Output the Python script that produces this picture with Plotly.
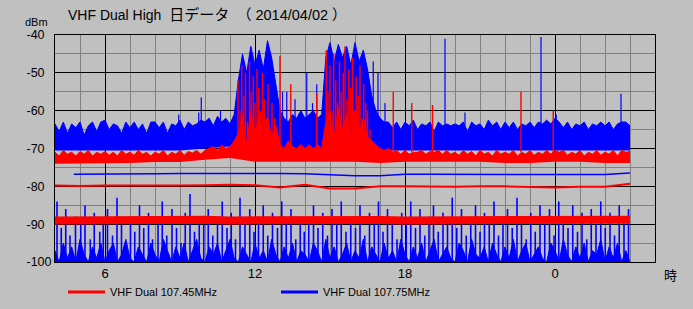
import plotly.graph_objects as go

# ---------------- data ----------------
# 10-minute samples from 4:00 to 27:00 (= 3:00 next day), hours since 0:00 of 2014/04/02
T0 = 4.0
STEP = 1.0 / 6.0

# 107.75MHz (blue) - max trace: top edge of the noisy band (10-min)
blue_max_top = [
    -63.5, -65.5, -63, -66, -63.5, -64.5, -63, -66.5, -64, -63, -65.5, -63,
    -62.5, -65, -63.5, -64, -66, -63, -64.5, -63, -65, -63.5, -66, -63,
    -63, -64.5, -63, -66, -63.5, -64, -62.5, -65, -63, -64, -63.5, -62.5,
    -63, -62, -64, -61.5, -63, -62, -63.5, -61, -52, -45, -50, -43,
    -48, -44, -49, -41.5, -46, -53, -60, -62, -63, -61, -62, -60,
    -62, -61, -60, -62, -61, -46, -42, -47, -42.5, -46, -43, -48,
    -42, -47, -44, -49, -56, -60, -62, -63, -63, -64.5, -63, -65,
    -63, -64, -62.5, -65, -63.5, -64, -63, -65.5, -63, -64, -63.5, -64,
    -63.5, -64, -63, -65.5, -63, -64, -63.5, -65, -62.5, -64, -63, -65,
    -63, -64.5, -63, -65, -63.5, -64, -63, -64.5, -63, -63.5, -62.5, -63.5,
    -62, -63, -64.5, -63, -65, -63.5, -64, -63, -65, -63.5, -64, -63,
    -64, -63, -65, -63.5, -63, -63, -64,
]
# bottom edge of that band, hourly 4:00 .. 27:00
blue_max_bottom = [
    -70.5, -70.5, -70.5, -70.5, -70.5, -70.5, -70, -69.5, -70, -70, -70, -70.5,
    -70.5, -70.5, -70.5, -70.5, -70.5, -70.5, -70.5, -70.5, -70.5, -70.5, -70.5, -70.5,
]
# isolated max-trace spikes of 107.75MHz
blue_max_spike_t = [8.95, 9.75, 9.85, 10.62, 13.1, 13.27, 13.6, 14.07, 14.3, 14.47,
                    16.73, 16.92, 17.2, 19.6, 20.4, 23.44, 24.05, 26.64]
blue_max_spike_v = [-61, -60.5, -56.5, -60, -55, -55, -57, -50, -58, -53,
                    -47, -50, -58, -41, -60.5, -40.5, -61, -55.5]

# 107.75MHz average trace
blue_avg_hours = [4.75, 5, 6, 7, 8, 9, 10, 11, 12, 13, 14, 15, 16, 17, 18, 19,
                  20, 21, 22, 23, 24, 25, 26, 27]
blue_avg = [-76.8, -76.8, -76.7, -76.7, -76.7, -76.6, -76.6, -76.5, -76.6, -76.6,
            -76.7, -77.0, -77.2, -77.2, -76.8, -76.8, -76.8, -76.8, -76.9, -76.9,
            -77.0, -76.9, -76.9, -76.5]

# 107.75MHz minimum trace: dense part just above the -100 floor (10-min)
blue_min = [
    -97, -100, -95, -99, -96, -100, -94, -98, -100, -96, -99, -95,
    -100, -97, -95, -100, -98, -94, -99, -100, -96, -98, -100, -95,
    -98, -100, -94, -97, -100, -96, -99, -95, -100, -97, -94, -99,
    -100, -96, -98, -95, -100, -97, -94, -99, -100, -96, -98, -100,
    -95, -99, -97, -100, -94, -98, -100, -96, -99, -95, -100, -97,
    -98, -100, -95, -97, -100, -94, -99, -96, -100, -98, -95, -100,
    -97, -99, -94, -100, -96, -98, -100, -95, -99, -97, -100, -94,
    -98, -100, -96, -99, -95, -100, -97, -94, -100, -98, -96, -99,
    -100, -95, -97, -100, -94, -98, -99, -96, -100, -95, -98, -100,
    -96, -99, -94, -100, -97, -95, -100, -98, -96, -99, -100, -95,
    -97, -100, -94, -98, -100, -96, -99, -95, -100, -97, -98, -94,
    -100, -96, -99, -95, -100, -97, -100,
]
# 107.75MHz minimum trace: spikes rising from the floor
blue_min_spike_t = [
    4.08, 4.25, 4.43, 4.60, 4.82, 5.03, 5.20, 5.41, 5.57, 5.79, 5.93,
    6.10, 6.30, 6.48, 6.66, 6.85, 7.02, 7.19, 7.38, 7.55, 7.74, 7.90,
    8.12, 8.29, 8.47, 8.68, 8.86, 9.04, 9.21, 9.40, 9.58, 9.77, 9.95,
    10.13, 10.31, 10.50, 10.69, 10.88, 11.05, 11.22, 11.40, 11.60, 11.79, 11.96,
    12.14, 12.33, 12.51, 12.70, 12.90, 13.07, 13.25, 13.44, 13.63, 13.81, 13.97,
    14.15, 14.34, 14.52, 14.71, 14.90, 15.08, 15.27, 15.45, 15.64, 15.83,
    16.02, 16.20, 16.39, 16.58, 16.77, 16.94, 17.12, 17.30, 17.49, 17.68, 17.87,
    18.05, 18.23, 18.42, 18.60, 18.79, 18.96, 19.14, 19.33, 19.52, 19.70, 19.89,
    20.07, 20.26, 20.45, 20.63, 20.82, 21.00, 21.18, 21.37, 21.56, 21.74, 21.92,
    22.10, 22.29, 22.48, 22.66, 22.85, 23.03, 23.21, 23.40, 23.59, 23.78, 23.96,
    24.15, 24.33, 24.52, 24.71, 24.90, 25.08, 25.27, 25.45, 25.64, 25.83,
    26.01, 26.20, 26.38, 26.57, 26.76, 26.94,
]
blue_min_spike_v = [
    -84, -91, -86, -93, -88, -90, -85, -94, -87, -92, -89,
    -86, -93, -83, -90, -95, -88, -92, -85, -91, -87, -94,
    -89, -84, -93, -86, -91, -95, -87, -82, -92, -88, -90,
    -86, -93, -89, -84, -91, -87, -94, -83, -90, -86, -92,
    -88, -85, -93, -87, -91, -84, -90, -86, -94, -88, -92,
    -89, -85, -91, -87, -93, -86, -90, -84, -92, -88,
    -91, -85, -93, -87, -90, -84, -92, -86, -89, -94, -87,
    -90, -84, -91, -86, -93, -88, -85, -92, -87, -90, -83,
    -91, -86, -93, -88, -85, -92, -87, -90, -84, -93, -88,
    -86, -91, -83, -89, -94, -87, -92, -85, -90, -86, -93,
    -84, -89, -91, -85, -92, -87, -94, -86, -90, -84,
    -91, -87, -93, -85, -89, -86,
]

# 107.45MHz (red) - max trace: top edge of the band (10-min)
red_max_top = [
    -71, -72, -70.5, -71.5, -71, -72, -70.8, -71.5, -70.5, -72, -71, -71.5,
    -70.8, -71.8, -71, -72, -70.5, -71.5, -71, -71.8, -70.5, -71.5, -71, -72,
    -71, -71.5, -70.5, -72, -71, -71.5, -70.5, -71.8, -70.8, -71.2, -70.5, -71.5,
    -70.5, -70, -69.5, -70.5, -69, -70, -69.5, -68, -66, -61, -69, -60,
    -66, -61, -68, -62, -67, -64, -69, -70, -68, -69.5, -70, -69,
    -70, -69, -70, -69, -70, -63, -60, -67, -59, -65, -61, -68,
    -60, -66, -62, -67, -68, -69, -70, -70.5, -70, -71, -70.5, -71.5,
    -70.5, -71.5, -71, -71, -70.5, -71.5, -70.8, -71, -70.5, -71.5, -70.5, -71.5,
    -71, -71.8, -70.5, -71.5, -70.8, -72, -70.5, -71.5, -71, -72, -70.5, -71.5,
    -71, -71.5, -70.5, -72, -71, -71.5, -70.5, -71.8, -71, -71.5, -70.5, -71.5,
    -70.5, -71, -70.5, -71.8, -71, -71.5, -70.5, -72, -71, -71.5, -70.5, -71.8,
    -71, -71.5, -70.5, -72, -70.5, -71, -70.8,
]
red_max_bottom = [
    -74, -74, -73.8, -73.8, -73.6, -73.6, -73, -72.5, -73.5, -73.5, -73.5, -73.5,
    -73.5, -73.8, -73.5, -73.5, -73.5, -73.5, -73.8, -73.8, -73.5, -73.5, -73.8, -73.8,
]
# max-trace spikes of 107.45MHz (incl. the two busy periods)
red_max_spike_t = [
    11.32, 11.40, 11.47, 11.55, 11.62, 11.70, 11.78, 11.85, 11.93, 12.00, 12.08,
    12.15, 12.22, 12.30, 12.37, 12.45, 12.52, 12.60, 12.68, 12.78, 12.88, 13.00,
    13.43, 14.47,
    14.85, 14.92, 15.00, 15.08, 15.15, 15.23, 15.30, 15.38, 15.45, 15.53, 15.60,
    15.68, 15.75, 15.83, 15.90, 15.98, 16.05, 16.13, 16.20, 16.28, 16.35, 16.43,
    16.50, 16.60, 16.70,
    17.53, 18.27, 19.10, 22.64, 23.93,
]
red_max_spike_v = [
    -52, -60, -48, -56, -50, -63, -47, -55, -51, -58, -49,
    -54, -60, -50, -57, -62, -53, -65, -58, -62, -66, -45.5,
    -53, -55.5,
    -44, -55, -48, -60, -45, -52, -58, -47, -55, -50, -43,
    -57, -49, -54, -46, -60, -51, -56, -48, -62, -53, -58,
    -60, -65, -68,
    -55, -58, -58.5, -55, -60,
]
# 107.45MHz average trace, hourly 4:00 .. 27:00
red_avg = [-79.8, -79.9, -79.8, -79.8, -79.9, -79.8, -79.7, -79.6, -79.7, -80.3,
           -79.6, -80.6, -80.6, -80.0, -80.0, -80.1, -80.1, -80.0, -80.0, -80.2,
           -80.3, -80.1, -80.1, -79.3]
# 107.45MHz minimum trace, hourly 4:00 .. 27:00
red_min = [-89, -88.9, -88.8, -89, -88.9, -89, -88.8, -89, -88.9, -89, -88.8, -89,
           -89, -88.9, -89, -89, -88.8, -89, -89.1, -89, -88.9, -89.1, -89, -88.8]

x_ticks = [6, 12, 18, 24]
x_tick_labels = ["6", "12", "18", "0"]
y_ticks = [-100, -90, -80, -70, -60, -50, -40]
y_tick_labels = ["-100", "-90\u2007", "-80\u2007", "-70\u2007", "-60\u2007", "-50\u2007", "-40\u2007"]

RED = "#FF0000"
BLUE = "#0000FF"
BG = "#C0C0C0"

t10 = [T0 + i * STEP for i in range(len(blue_max_top))]
t_hour = [T0 + i for i in range(len(red_avg))]
t_end = t10[-1]


def spikes(times, peaks, base):
    xs, ys = [], []
    for t, v in zip(times, peaks):
        xs += [t, t, None]
        ys += [base, v, None]
    return xs, ys


fig = go.Figure()
common = dict(mode="lines", hoverinfo="skip", showlegend=False)

# ---- blue series (drawn first, red on top) ----
fig.add_trace(go.Scatter(x=t_hour, y=blue_max_bottom, line=dict(width=0, color=BLUE), **common))
fig.add_trace(go.Scatter(x=t10, y=blue_max_top, line=dict(width=1, color=BLUE),
                         fill="tonexty", fillcolor=BLUE, **common))
bx, by = spikes(blue_max_spike_t, blue_max_spike_v, -64)
fig.add_trace(go.Scatter(x=bx, y=by, line=dict(width=1.2, color=BLUE), **common))
fig.add_trace(go.Scatter(x=blue_avg_hours, y=blue_avg, line=dict(width=1.5, color=BLUE), **common))
fig.add_trace(go.Scatter(x=[T0, t_end], y=[-100, -100], line=dict(width=0, color=BLUE), **common))
fig.add_trace(go.Scatter(x=t10, y=blue_min, line=dict(width=1, color=BLUE),
                         fill="tonexty", fillcolor=BLUE, **common))
sx, sy = spikes(blue_min_spike_t, blue_min_spike_v, -100)
fig.add_trace(go.Scatter(x=sx, y=sy, line=dict(width=1.6, color=BLUE), **common))

# ---- red series ----
fig.add_trace(go.Scatter(x=t_hour, y=red_max_bottom, line=dict(width=0, color=RED), **common))
fig.add_trace(go.Scatter(x=t10, y=red_max_top, line=dict(width=1, color=RED),
                         fill="tonexty", fillcolor=RED, **common))
rx, ry = spikes(red_max_spike_t, red_max_spike_v, -71)
fig.add_trace(go.Scatter(x=rx, y=ry, line=dict(width=1.4, color=RED), **common))
fig.add_trace(go.Scatter(x=t_hour, y=red_avg, line=dict(width=2, color=RED), **common))
fig.add_trace(go.Scatter(x=t_hour, y=red_min, line=dict(width=8, color=RED), **common))

# ---- legend entries ----
fig.add_trace(go.Scatter(x=[None], y=[None], mode="lines", name="VHF Dual 107.45MHz",
                         line=dict(color=RED, width=3), legendrank=1))
fig.add_trace(go.Scatter(x=[None], y=[None], mode="lines", name="VHF Dual 107.75MHz",
                         line=dict(color=BLUE, width=3), legendrank=2))

FONT = "Liberation Sans, Arial, Noto Sans CJK JP, sans-serif"
NB = "\u00a0"

fig.update_layout(
    width=693, height=309,
    paper_bgcolor=BG, plot_bgcolor=BG,
    margin=dict(l=55, r=38, t=35, b=47, pad=0, autoexpand=False),
    font=dict(family=FONT, size=13, color="black"),
    hovermode=False,
    title=dict(
        text=("VHF Dual High  <span style='font-size:15px'>日データ</span>" + NB * 2 +
              "<span style='font-size:14.5px'>（" + NB + "2014/04/02" + NB + "）</span>"),
        x=68 / 693, xref="container", xanchor="left",
        y=1 - 15.5 / 309, yref="container", yanchor="middle",
        font=dict(family=FONT, size=14, color="black"),
    ),
    xaxis=dict(
        range=[4, 28], tickmode="array", tickvals=x_ticks, ticktext=x_tick_labels,
        showgrid=True, gridcolor="black", gridwidth=1, zeroline=False,
        minor=dict(tickmode="linear", tick0=0, dtick=1, showgrid=True,
                   gridcolor="#808080", gridwidth=1),
        showline=True, mirror=True, linecolor="black", linewidth=1,
        ticks="", tickfont=dict(size=13), ticklabelstandoff=-1,
    ),
    yaxis=dict(
        range=[-100, -40], tickmode="array", tickvals=y_ticks, ticktext=y_tick_labels,
        showgrid=True, gridcolor="black", gridwidth=1, zeroline=False,
        minor=dict(tickmode="linear", tick0=0, dtick=5, showgrid=True,
                   gridcolor="#808080", gridwidth=1),
        showline=True, mirror=True, linecolor="black", linewidth=1,
        ticks="", tickfont=dict(size=12.5),
    ),
    legend=dict(
        orientation="h", x=(63 - 55) / 600, xanchor="left",
        y=(262 - 292) / 227, yanchor="middle",
        bgcolor="rgba(0,0,0,0)", font=dict(size=11, family=FONT),
        itemwidth=37, entrywidth=161, entrywidthmode="pixels", traceorder="normal",
    ),
    annotations=[
        dict(text="dBm", xref="paper", yref="paper", x=(36.5 - 55) / 600, y=(262 - 22.5) / 227,
             xanchor="center", yanchor="middle", showarrow=False, font=dict(size=11)),
        dict(text="時", xref="paper", yref="paper", x=(670 - 55) / 600, y=(262 - 275) / 227,
             xanchor="center", yanchor="middle", showarrow=False, font=dict(size=13)),
    ],
)

fig.write_html("out.html")
